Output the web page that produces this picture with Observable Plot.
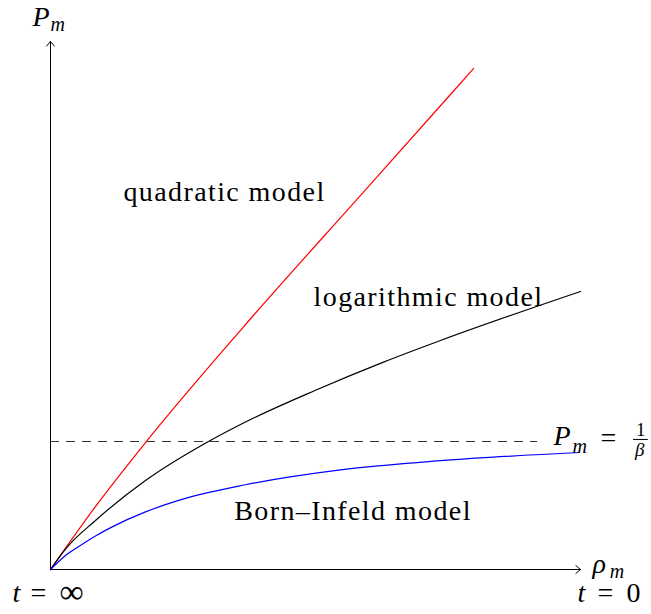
<!DOCTYPE html>
<html>
<head>
<meta charset="utf-8">
<script src="https://cdn.jsdelivr.net/npm/d3@7"></script>
<script src="https://cdn.jsdelivr.net/npm/@observablehq/plot@0.6"></script>
<style>
  body { margin: 0; }
  #fontwarm { position: absolute; left: 0; top: 0; opacity: 0; font-family: 'Liberation Serif'; font-size: 28px; pointer-events: none; }
  #fontwarm i { font-style: italic; }
</style>
</head>
<body>
<span id="fontwarm" aria-hidden="true">&nbsp;<i>&nbsp;</i></span>
<div id="chart"></div>
<script>
// ---- data (x in ρ_m units, y in units of 1/β) ----
const quadX = [0, 0.849, 1.774, 3.585, 5.981, 7.981];
const quadY = [0, 0.492, 0.982, 1.869, 2.983, 3.913];

const logX = [0, 0.283, 0.849, 1.792, 2.981, 3.585, 5.0, 6.283, 7.358, 10];
const logY = [0, 0.16, 0.383, 0.695, 1.0, 1.133, 1.40, 1.62, 1.789, 2.172];

const biX = [0, 0.283, 0.534, 0.849, 1.164, 1.792, 2.415, 3.679, 5.472, 7.358, 9.98];
const biY = [0, 0.11, 0.18, 0.262, 0.333, 0.45, 0.54, 0.662, 0.778, 0.85, 0.914];

const limitY = 1;          // P_m = 1/β
const limitXEnd = 9.19;

const modelNames = ["quadratic model", "logarithmic model", "Born–Infeld model"];
const modelLabelX = [3.283, 7.132, 5.708];
const modelLabelY = [2.95, 2.13, 0.458];

// math annotations
const italicBig = [
  {x: -0.34, y: 4.32, t: "P"},
  {x: 10.226, y: 0.039, t: "ρ"},
  {x: -0.717, y: -0.18, t: "t"},
  {x: 9.943, y: -0.1875, t: "t"},
  {x: 9.491, y: 1.039, t: "P"}
];
const italicSub = [
  {x: 0.0, y: 4.26, t: "m"},
  {x: 10.55, y: -0.0125, t: "m"},
  {x: 9.849, y: 0.964, t: "m"}
];
const uprightBig = [
  {x: -0.377, y: -0.18, t: "="},
  {x: 10.32, y: -0.1875, t: "="},
  {x: 10.868, y: -0.1875, t: "0"},
  {x: 10.377, y: 1.031, t: "="}
];
const infinity = [{x: 0.17, y: -0.18, t: "∞"}];
const fracNum = [{x: 11.045, y: 1.094, t: "1"}];
const fracDen = [{x: 11.03, y: 0.9375, t: "β"}];
const fracBar = {y: 1.016, x1: 11.0, x2: 11.28};

const axesArrows = [
  {x1: 0, y1: 0, x2: 10, y2: 0},
  {x1: 0, y1: 0, x2: 0, y2: 4.125}
];

const toRows = (xs, ys) => xs.map((x, i) => ({x, y: ys[i]}));
const quad = toRows(quadX, quadY);
const logm = toRows(logX, logY);
const bi = toRows(biX, biY);
const modelLabels = modelNames.map((t, i) => ({t, x: modelLabelX[i], y: modelLabelY[i]}));

const txt = {x: "x", y: "y", text: "t", fontFamily: "Liberation Serif"};

function render() {
  const chart = Plot.plot({
    width: 651,
    height: 614,
    marginLeft: 50,
    marginRight: 71,
    marginTop: 41,
    marginBottom: 45,
    x: {domain: [0, 10], axis: null},
    y: {domain: [0, 4.125], axis: null},
    marks: [
      Plot.ruleY([limitY], {x1: 0, x2: limitXEnd, stroke: "#333", strokeWidth: 1, strokeDasharray: "9,7"}),
      Plot.arrow(axesArrows, {x1: "x1", y1: "y1", x2: "x2", y2: "y2", stroke: "#000", strokeWidth: 1, headLength: 9, headAngle: 80}),
      Plot.line(quad, {x: "x", y: "y", stroke: "#ff0000", strokeWidth: 1.2, curve: "monotone-x"}),
      Plot.line(logm, {x: "x", y: "y", stroke: "#000", strokeWidth: 1.2, curve: "monotone-x"}),
      Plot.line(bi, {x: "x", y: "y", stroke: "#0000ff", strokeWidth: 1.2, curve: "monotone-x"}),
      Plot.text(modelLabels, {...txt, fontSize: 28, className: "lbl"}),
      Plot.text(italicBig, {...txt, fontSize: 28, fontStyle: "italic", textAnchor: "start"}),
      Plot.text(italicSub, {...txt, fontSize: 20, fontStyle: "italic", textAnchor: "start"}),
      Plot.text(uprightBig, {...txt, fontSize: 28, textAnchor: "start"}),
      Plot.text(infinity, {...txt, fontSize: 34, textAnchor: "start"}),
      Plot.text(fracNum, {...txt, fontSize: 19, textAnchor: "start"}),
      Plot.text(fracDen, {...txt, fontSize: 19, fontStyle: "italic", textAnchor: "start"}),
      Plot.ruleY([fracBar.y], {x1: fracBar.x1, x2: fracBar.x2, stroke: "#000", strokeWidth: 1})
    ]
  });
  d3.select(chart).attr("font-family", "Liberation Serif, serif");
  d3.select(chart).selectAll(".lbl text").attr("letter-spacing", 1.4);
  const holder = document.getElementById("chart");
  holder.replaceChildren(chart);
}

render();
if (document.fonts && document.fonts.load) {
  Promise.all([
    document.fonts.load("28px 'Liberation Serif'"),
    document.fonts.load("italic 28px 'Liberation Serif'")
  ]).then(render).catch(() => {});
}
</script>
</body>
</html>
